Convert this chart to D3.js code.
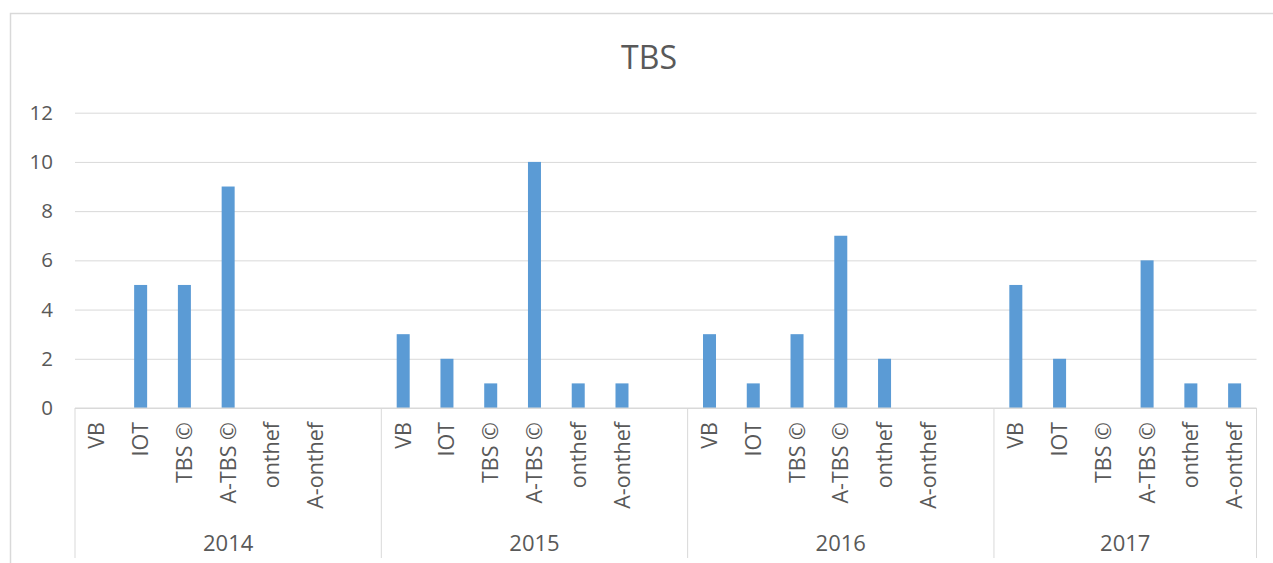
<!DOCTYPE html>
<html lang="en">
<head>
    <meta charset="UTF-8">
    <script src="https://d3js.org/d3.v7.min.js"></script>
    <title>TBS</title>
    <style>
        body { margin: 0; background: #fff; }
        text { font-family: "Open Sans", sans-serif; fill: #595959; }
    </style>
</head>
<body>
    <svg id="chart" width="1273" height="563"></svg>

    <script>
        // data
        var years = ["2014", "2015", "2016", "2017"];
        var categories = ["VB", "IOT", "TBS ©", "A-TBS ©", "onthef", "A-onthef"];
        var values2014 = [0, 5, 5, 9, 0, 0];
        var values2015 = [3, 2, 1, 10, 1, 1];
        var values2016 = [3, 1, 3, 7, 2, 0];
        var values2017 = [5, 2, 0, 6, 1, 1];
        var yTicks = [0, 2, 4, 6, 8, 10, 12];

        var series = [values2014, values2015, values2016, values2017];

        // flat list of slots; every group but the last has an empty spacer slot at the end
        var slots = [];
        years.forEach(function (yr, gi) {
            categories.forEach(function (c, ci) {
                slots.push({ key: yr + "|" + c, year: yr, cat: c, value: series[gi][ci] });
            });
            if (gi < years.length - 1) slots.push({ key: yr + "|spacer", year: yr, cat: "", value: null });
        });

        var svg = d3.select("#chart");

        var plotLeft = 75, plotRight = 1256.5, plotTop = 112.7, plotBottom = 408;

        // chart border
        svg.append("rect")
            .attr("x", 10.5).attr("y", 13.5)
            .attr("width", 1275).attr("height", 580)
            .attr("fill", "none")
            .attr("stroke", "#d9d9d9")
            .attr("stroke-width", 1.5);

        svg.append("text")
            .attr("x", 649).attr("y", 69)
            .attr("text-anchor", "middle")
            .style("font-size", "32px")
            .text("TBS");

        var x = d3.scaleBand()
            .domain(slots.map(function (d) { return d.key; }))
            .range([plotLeft, plotRight])
            .paddingInner(0).paddingOuter(0);

        var y = d3.scaleLinear()
            .domain([0, 12])
            .range([plotBottom, plotTop]);

        // gridlines + y labels
        var yAxis = svg.append("g")
            .attr("transform", "translate(" + plotLeft + ",0)")
            .call(d3.axisLeft(y).tickValues(yTicks).tickSize(-(plotRight - plotLeft)).tickPadding(22));
        yAxis.select(".domain").remove();
        yAxis.selectAll(".tick line").attr("stroke", "#d9d9d9");
        yAxis.selectAll(".tick text")
            .style("font-size", "20.5px")
            .style("font-family", "'Open Sans', sans-serif")
            .attr("fill", "#595959");

        // bars
        var barW = 13;
        svg.append("g")
            .selectAll("rect")
            .data(slots.filter(function (d) { return d.value; }))
            .enter()
            .append("rect")
            .attr("x", function (d) { return x(d.key) + x.bandwidth() / 2 - barW / 2; })
            .attr("y", function (d) { return y(d.value); })
            .attr("width", barW)
            .attr("height", function (d) { return y(0) - y(d.value); })
            .attr("fill", "#5b9bd5");

        // baseline
        svg.append("line")
            .attr("x1", plotLeft).attr("x2", plotRight)
            .attr("y1", y(0)).attr("y2", y(0))
            .attr("stroke", "#d9d9d9");

        // category labels
        svg.append("g")
            .selectAll("text")
            .data(slots.filter(function (d) { return d.cat; }))
            .enter()
            .append("text")
            .attr("transform", function (d) {
                return "translate(" + (x(d.key) + x.bandwidth() / 2) + ",422) rotate(-90)";
            })
            .attr("dy", "0.35em")
            .attr("text-anchor", "end")
            .style("font-size", "21.5px")
            .text(function (d) { return d.cat; });

        // group separators and year labels
        var groupBounds = years.map(function (yr) {
            var inGroup = slots.filter(function (d) { return d.year === yr; });
            var x0 = x(inGroup[0].key);
            var x1 = x(inGroup[inGroup.length - 1].key) + x.bandwidth();
            return { year: yr, x0: x0, x1: x1 };
        });

        var seps = [plotLeft].concat(groupBounds.map(function (g) { return g.x1; }));
        svg.append("g")
            .selectAll("line")
            .data(seps)
            .enter()
            .append("line")
            .attr("x1", function (d) { return d; })
            .attr("x2", function (d) { return d; })
            .attr("y1", y(0))
            .attr("y2", 558)
            .attr("stroke", "#d9d9d9");

        svg.append("g")
            .selectAll("text")
            .data(groupBounds)
            .enter()
            .append("text")
            .attr("x", function (d) { return (d.x0 + d.x1) / 2; })
            .attr("y", 551)
            .attr("text-anchor", "middle")
            .style("font-size", "22px")
            .text(function (d) { return d.year; });
    </script>
</body>
</html>
